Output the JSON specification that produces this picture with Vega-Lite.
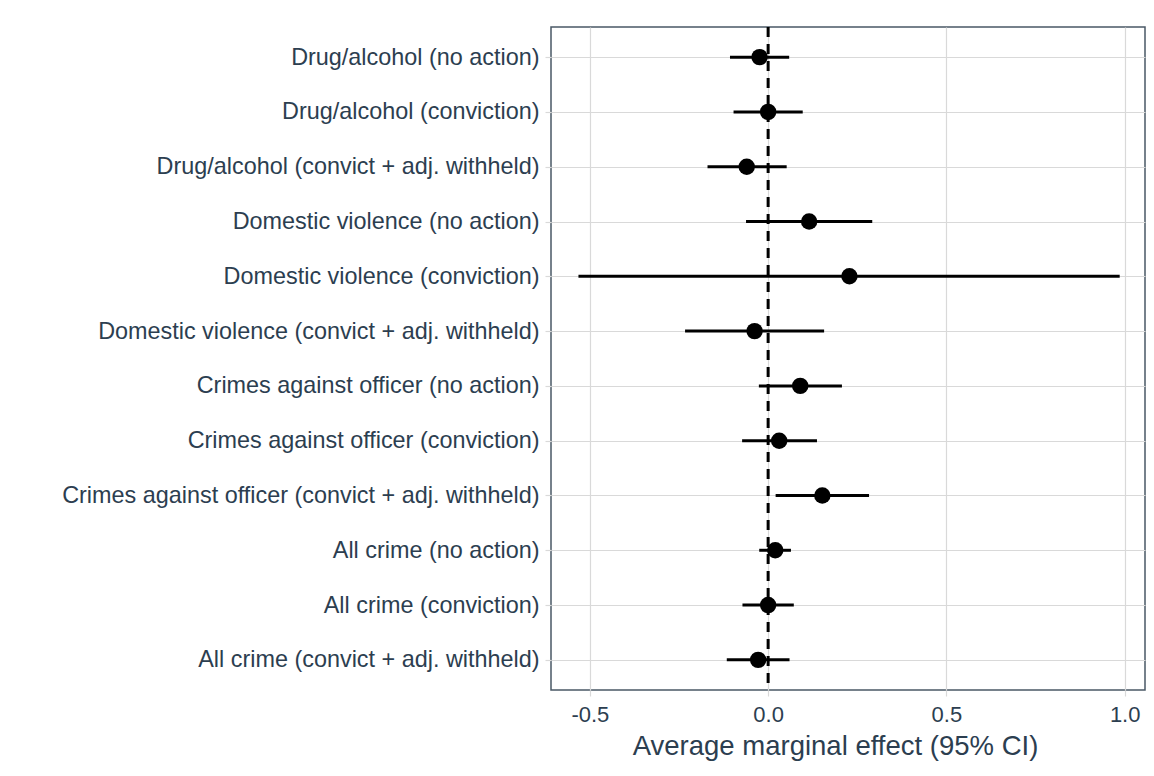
{
  "$schema": "https://vega.github.io/schema/vega-lite/v6.json",
  "width": 594,
  "height": 663,
  "autosize": {"type": "none"},
  "padding": {"left": 551, "top": 27, "right": 9, "bottom": 86},
  "background": "white",
  "data": {"values": [
    {"label": "Drug/alcohol (no action)", "est": -0.024, "lo": -0.107, "hi": 0.059},
    {"label": "Drug/alcohol (conviction)", "est": 0.0, "lo": -0.097, "hi": 0.097},
    {"label": "Drug/alcohol (convict + adj. withheld)", "est": -0.06, "lo": -0.170, "hi": 0.052},
    {"label": "Domestic violence (no action)", "est": 0.115, "lo": -0.062, "hi": 0.292},
    {"label": "Domestic violence (conviction)", "est": 0.228, "lo": -0.532, "hi": 0.986},
    {"label": "Domestic violence (convict + adj. withheld)", "est": -0.038, "lo": -0.233, "hi": 0.157},
    {"label": "Crimes against officer (no action)", "est": 0.090, "lo": -0.026, "hi": 0.207},
    {"label": "Crimes against officer (conviction)", "est": 0.031, "lo": -0.073, "hi": 0.137},
    {"label": "Crimes against officer (convict + adj. withheld)", "est": 0.152, "lo": 0.021, "hi": 0.283},
    {"label": "All crime (no action)", "est": 0.020, "lo": -0.025, "hi": 0.064},
    {"label": "All crime (conviction)", "est": 0.0, "lo": -0.072, "hi": 0.072},
    {"label": "All crime (convict + adj. withheld)", "est": -0.028, "lo": -0.116, "hi": 0.060}
  ]},
  "encoding": {
    "y": {
      "field": "label", "type": "nominal", "sort": null,
      "scale": {"type": "point", "padding": 0.55},
      "axis": {
        "title": null, "domain": false, "labelFontSize": 23.4, "labelColor": "#2c3e50",
        "labelFont": "Liberation Sans", "labelPadding": 6, "tickColor": "#d9d9d9",
        "tickSize": 6, "tickWidth": 1.2, "grid": true, "gridColor": "#d9d9d9", "gridWidth": 1.2,
        "labelLimit": 600
      }
    }
  },
  "layer": [
    {
      "mark": {"type": "rule", "color": "black", "strokeWidth": 3, "strokeDash": [10, 7]},
      "data": {"values": [{"z": 0}]},
      "encoding": {"x": {"field": "z", "type": "quantitative"}, "y": null}
    },
    {
      "mark": {"type": "rule", "color": "black", "strokeWidth": 3},
      "encoding": {
        "x": {
          "field": "lo", "type": "quantitative",
          "scale": {"domain": [-0.609, 1.057], "nice": false, "zero": false},
          "axis": {
            "title": "Average marginal effect (95% CI)", "titleFontSize": 27.5, "titleFontWeight": "normal",
            "titleColor": "#2c3e50", "titleFont": "Liberation Sans", "titlePadding": 7,
            "titleX": 284, "titleAnchor": "middle", "titleAlign": "center",
            "values": [-0.5, 0, 0.5, 1.0],
            "labelExpr": "replace(format(datum.value, '.1f'), '\u2212', '-')",
            "labelFontSize": 22, "labelColor": "#2c3e50", "labelFont": "Liberation Sans", "labelPadding": 8,
            "domain": false, "tickColor": "#d9d9d9", "tickSize": 6, "tickWidth": 1.2,
            "grid": true, "gridColor": "#d9d9d9", "gridWidth": 1.2
          }
        },
        "x2": {"field": "hi"}
      }
    },
    {
      "mark": {"type": "point", "filled": true, "color": "black", "opacity": 1, "size": 270, "shape": "circle"},
      "encoding": {"x": {"field": "est", "type": "quantitative"}}
    }
  ],
  "config": {
    "view": {"stroke": "#4a5866", "strokeWidth": 1.5},
    "font": "Liberation Sans"
  }
}
